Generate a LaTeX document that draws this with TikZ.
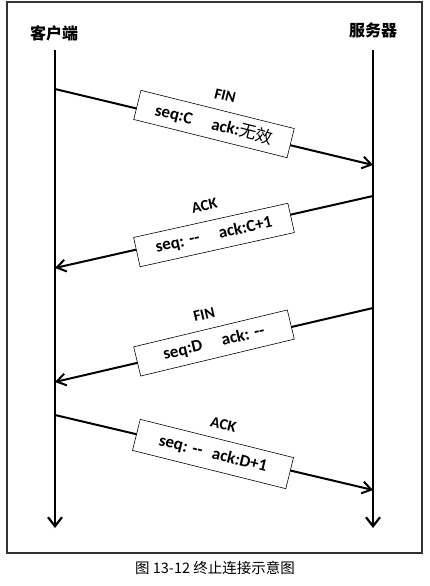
\documentclass[tikz,border=0pt]{standalone}
\usepackage{fontspec}
\setmainfont{Carlito}
\newfontfamily\cjk{Noto Sans CJK SC}
\usetikzlibrary{arrows.meta}
\begin{document}
\begin{tikzpicture}[x=1pt,y=1pt,
  frame/.style={draw=black!80,line width=1.5pt},
  life/.style={line width=2.4pt,-{Straight Barb[length=9pt,width=14pt,line width=2.2pt]}},
  msg/.style={line width=2pt,-{Straight Barb[length=9pt,width=12pt,line width=2pt]}},
  msgbox/.style={draw,fill=white,line width=0.6pt,minimum width=158pt,minimum height=30pt,inner sep=0pt,font=\bfseries\fontsize{17}{19}\selectfont},
  lab/.style={font=\bfseries\fontsize{15.5}{17}\selectfont},
  who/.style={font=\cjk\bfseries\fontsize{16}{18}\selectfont},
  captext/.style={font=\cjk\fontsize{14.5}{16}\selectfont}]
\useasboundingbox (0,0) rectangle (430,-586);
\draw[frame] (7,-2) rectangle (422,-553);
\node[who] (cl) at (54,-33) {客户端};
\node[who] (sv) at (373,-30) {服务器};
\coordinate (ct) at (55,-50);
\coordinate (cb) at (55,-528);
\coordinate (st) at (373,-50);
\coordinate (sb) at (373,-528);
\draw[life] (ct) -- (cb);
\draw[life] (st) -- (sb);
% message end points
\coordinate (a1) at (55,-89);
\coordinate (b1) at (373,-165);
\coordinate (a2) at (373,-196);
\coordinate (b2) at (55,-268);
\coordinate (a3) at (373,-308);
\coordinate (b3) at (55,-382);
\coordinate (a4) at (55,-415);
\coordinate (b4) at (373,-490);
\draw[msg] (a1) -- (b1);
\draw[msg] (a2) -- (b2);
\draw[msg] (a3) -- (b3);
\draw[msg] (a4) -- (b4);
% boxes
\begin{scope}[shift={(214,-124)},rotate=-14,transform shape]
  \node[msgbox] (m1) at (0,0) {seq:C\hspace{20pt}ack:{\cjk\mdseries 无效}};
  \node[lab] (l1) at (4,30) {FIN};
\end{scope}
\begin{scope}[shift={(214,-235)},rotate=12.5,transform shape]
  \node[msgbox] (m2) at (0,0) {seq: -{}-\hspace{20pt}ack:C+1};
  \node[lab] (l2) at (-3,31) {ACK};
\end{scope}
\begin{scope}[shift={(214,-343)},rotate=13.5,transform shape]
  \node[msgbox] (m3) at (0,0) {seq:D\hspace{20pt}ack: -{}-};
  \node[lab] (l3) at (-3,30) {FIN};
\end{scope}
\begin{scope}[shift={(213,-454)},rotate=-14,transform shape]
  \node[msgbox,minimum height=32pt] (m4) at (0,0) {seq: -{}-\hspace{10pt}ack:D+1};
  \node[lab] (l4) at (3,31) {ACK};
\end{scope}
\node[captext] (c) at (215,-568) {图 13-12 终止连接示意图};
\end{tikzpicture}
\end{document}
